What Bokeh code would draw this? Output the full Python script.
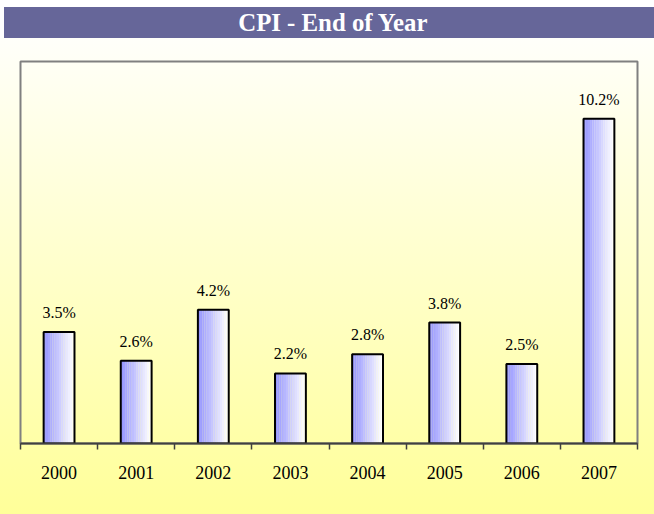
from bokeh.plotting import figure
from bokeh.models import ColumnDataSource, Range1d, FixedTicker, LabelSet, Label
from bokeh.layouts import column
from bokeh.embed import file_html
from bokeh.resources import INLINE
from bokeh.transform import dodge

# ---- data ----
years = ["2000", "2001", "2002", "2003", "2004", "2005", "2006", "2007"]
cpi = [3.5, 2.6, 4.2, 2.2, 2.8, 3.8, 2.5, 10.2]
title_text = "CPI - End of Year"

pos = list(range(len(years)))
labels = [f"{v:.1f}%" for v in cpi]
src = ColumnDataSource(dict(x=pos, top=cpi, label=labels))

W = 654
TH = 38          # title strip height
H = 514 - TH     # chart height

# ---- title strip ----
t = figure(width=W, height=TH, output_backend="svg", toolbar_location=None,
           x_range=Range1d(0, 650), y_range=Range1d(0, 31),
           x_axis_location=None, y_axis_location=None,
           min_border_left=4, min_border_right=0, min_border_top=7, min_border_bottom=0)
t.background_fill_color = None
t.border_fill_color = None
t.styles = {"background":
            "linear-gradient(#666699, #666699) 4px 7px / 650px 31px no-repeat, #ffffff"}
t.outline_line_color = None
t.xgrid.visible = False
t.ygrid.visible = False
t.add_layout(Label(x=329.5, y=16.5, text=title_text, text_align="center",
                   text_baseline="middle", text_color="white",
                   text_font="Liberation Serif", text_font_style="bold",
                   text_font_size="24.8px"))

# ---- chart ----
ML, MR, MT, MB = 20, 17, 23, 71
p = figure(width=W, height=H, output_backend="svg", toolbar_location=None,
           x_range=Range1d(-0.5, len(years) - 0.5), y_range=Range1d(0, 12),
           y_axis_location=None, min_border_left=ML, min_border_right=MR,
           min_border_top=MT, min_border_bottom=MB)
p.border_fill_color = None
p.background_fill_color = None
p.styles = {"background": "linear-gradient(to bottom, #fffffa 0%, #ffff99 100%)"}

p.xgrid.visible = False
p.ygrid.visible = False
p.outline_line_color = "#808080"
p.outline_line_width = 2

# bar gradient slices (blue left -> white right)
bar_w = 0.40
n = 14
c0 = (150, 150, 255)
c1 = (255, 255, 255)
for i in range(n):
    f = i / (n - 1)
    col = "#%02x%02x%02x" % tuple(int(round(a + (b - a) * f)) for a, b in zip(c0, c1))
    off = -bar_w / 2 + bar_w * (i + 0.5) / n
    p.vbar(x=dodge("x", off, range=p.x_range), top="top", bottom=0,
           width=bar_w / n * 1.05, source=src, fill_color=col, line_color=None)
p.vbar(x="x", top="top", bottom=0, width=bar_w, source=src,
       fill_color=None, line_color="black", line_width=2)

p.add_layout(LabelSet(x="x", y="top", text="label", source=src,
                      text_align="center", text_baseline="alphabetic", y_offset=14,
                      text_font="Liberation Serif", text_font_size="16px",
                      text_color="black"))

ax = p.xaxis[0]
ax.ticker = FixedTicker(ticks=pos, minor_ticks=[k - 0.5 for k in range(len(years) + 1)])
ax.major_label_overrides = {k: y for k, y in zip(pos, years)}
ax.major_tick_in = 0
ax.major_tick_out = 0
ax.minor_tick_in = 0
ax.minor_tick_out = 6
ax.minor_tick_line_color = "#404040"
ax.minor_tick_line_width = 1.5
ax.axis_line_color = "#404040"
ax.axis_line_width = 2
ax.major_label_standoff = 16
ax.major_label_text_font = "Liberation Serif"
ax.major_label_text_font_size = "18px"
ax.major_label_text_color = "black"

layout = column(t, p, spacing=0)
open("out.html", "w").write(file_html(layout, INLINE))
